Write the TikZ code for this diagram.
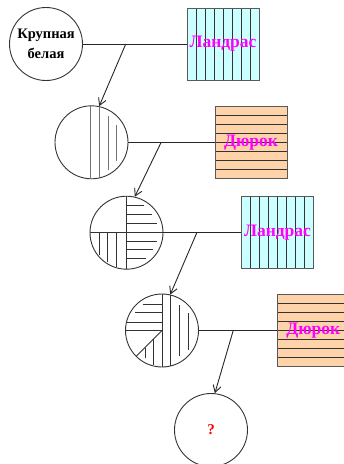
\documentclass[tikz,border=0pt]{standalone}
\usepackage{fontspec}
\setmainfont{Liberation Serif}
\usetikzlibrary{arrows.meta,calc}
\definecolor{cyanf}{HTML}{CCFFFF}
\definecolor{peach}{HTML}{FFD3AA}
\definecolor{mag}{HTML}{FF00FF}
\definecolor{redq}{HTML}{FF0000}
\begin{document}
\begin{tikzpicture}[x=1pt,y=-1pt,
  pig/.style={circle,draw=black!80,line width=0.9pt,minimum size=73pt,inner sep=0pt},
  sqbase/.style={rectangle,draw=black!65,line width=0.9pt,minimum size=72pt,inner sep=0pt,
     font=\bfseries\fontsize{17.5}{18}\selectfont,text=mag},
  vsq/.style={sqbase,fill=cyanf,path picture={
     \foreach \i in {1,...,7}
       \draw[black!80,line width=0.8pt] ($(path picture bounding box.north west)!\i/8!(path picture bounding box.north east)$) -- ($(path picture bounding box.south west)!\i/8!(path picture bounding box.south east)$);}},
  hsq/.style={sqbase,fill=peach,path picture={
     \foreach \i in {1,...,7}
       \draw[black!80,line width=0.8pt] ($(path picture bounding box.north west)!\i/8!(path picture bounding box.south west)$) -- ($(path picture bounding box.north east)!\i/8!(path picture bounding box.south east)$);}},
  conn/.style={draw=black!85,line width=0.9pt},
  arr/.style={conn,-{Straight Barb[length=7pt,width=8pt]}},
  hat/.style={draw=black!80,line width=0.9pt},
  hatg/.style={draw=black!55,line width=1pt}]
\useasboundingbox (0,0) rectangle (344,464);
\clip (0,0) rectangle (344,464);

% pigs (circles)
\node[pig,font=\bfseries\fontsize{14.5}{20}\selectfont,align=center] (c1) at (46,44) {Крупная\\белая};
\node[pig] (c2) at (91.5,142.3) {};
\node[pig] (c3) at (126.5,232.7) {};
\node[pig] (c4) at (162,330.5) {};
\node[pig,font=\bfseries\fontsize{15}{16}\selectfont,text=redq] (c5) at (211,430) {?};

% boars (squares)
\node[vsq] (s1) at (223,44) {Ландрас};
\node[hsq] (s2) at (251,142.3) {Дюрок};
\node[vsq] (s3) at (277.5,232.3) {Ландрас};
\node[hsq] (s4) at (313.3,330.5) {Дюрок};

% hatching of circle 2
\begin{scope}[shift={(c2.center)}]
  \clip (0,0) circle (36.5);
  \draw[hatg] (-1.5,-40) -- (-1.5,40);
  \draw[hatg] (7.5,-40) -- (7.5,40);
  \draw[hatg] (16.8,-26.6) -- (16.8,27.7);
  \draw[hatg] (25.2,-17.3) -- (25.2,18.7);
\end{scope}

% hatching of circle 3
\begin{scope}[shift={(c3.center)}]
  \clip (0,0) circle (36.5);
  \draw[hat] (0,-40) -- (0,40);
  \draw[hat] (-40,0) -- (40,0);
  \draw[hat] (0,-27.5) -- (17.8,-27.5);
  \draw[hat] (0,-18.5) -- (25.2,-18.5);
  \draw[hat] (0,-9) -- (30.2,-9);
  \draw[hat] (0,8.3) -- (30.2,8.3);
  \draw[hat] (0,17) -- (26.2,17);
  \draw[hat] (0,26) -- (19.5,26);
  \draw[hat] (-27.5,0) -- (-27.5,22.6);
  \draw[hat] (-18.8,0) -- (-18.8,29.3);
  \draw[hat] (-9.8,0) -- (-9.8,34.3);
\end{scope}

% hatching of circle 4
\begin{scope}[shift={(c4.center)}]
  \clip (0,0) circle (36.5);
  \draw[hat] (0,-40) -- (0,40);
  \draw[hat] (8,-40) -- (8,40);
  \draw[hat] (17.3,-25.5) -- (17.3,25.5);
  \draw[hat] (26.3,-17.5) -- (26.3,19.5);
  \draw[hat] (-18.7,-26.5) -- (0,-26.5);
  \draw[hat] (-27,-17.8) -- (0,-17.8);
  \draw[hat] (-40,-8.2) -- (0,-8.2);
  \draw[hat] (-40,0) -- (0,0);
  \draw[hat] (0,0) -- (-30,30);
  \draw[hat] (-17,17) -- (-17,27.8);
  \draw[hat] (-8.7,8.7) -- (-8.7,34.5);
\end{scope}

% mating lines
\draw[conn] (c1.east) -- (s1.west);
\draw[conn] (c2.east) -- (s2.west);
\draw[conn] (c3.east) -- (s3.west |- c3.east);
\draw[conn] (c4.east) -- (s4.west);

% junctions
\coordinate (j1) at ($(c1.east)!0.413!(s1.west)$);
\coordinate (j2) at ($(c2.east)!0.38!(s2.west)$);
\coordinate (j3) at ($(c3.east)!0.43!(s3.west |- c3.east)$);
\coordinate (j4) at ($(c4.east)!0.44!(s4.west)$);

% offspring arrows
\draw[arr] (j1) -- (c2.78);
\draw[arr] (j2) -- (c3.77);
\draw[arr] (j3) -- (c4.77);
\draw[arr] (j4) -- (c5.84);
\end{tikzpicture}
\end{document}
